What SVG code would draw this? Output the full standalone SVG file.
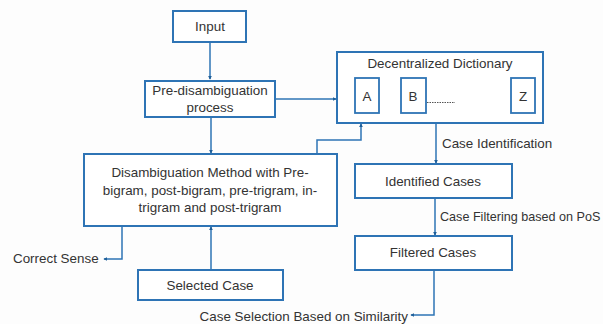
<svg xmlns="http://www.w3.org/2000/svg" width="603" height="324" viewBox="0 0 603 324">
<style>
.box{fill:#ffffff;stroke:#2e74b5;stroke-width:2}
.sub{fill:#ffffff;stroke:#2e74b5;stroke-width:1.8}
.con{fill:none;stroke:#2e74b5;stroke-width:1.5}
text{font-family:"Liberation Sans",Arial,sans-serif;font-size:13.4px;fill:#333333}
.c{text-anchor:middle}
</style>
<defs>
<marker id="ah" viewBox="0 0 6 6" refX="5" refY="3" markerWidth="4" markerHeight="4" orient="auto" markerUnits="userSpaceOnUse">
<path d="M0,0 L6,3 L0,6 z" fill="#1f5f99"/>
</marker>
</defs>
<rect width="603" height="324" fill="#fdfdfd"/>
<g id="connectors">
<path class="con" d="M210,42 V79" marker-end="url(#ah)"/>
<path class="con" d="M211,117 V153" marker-end="url(#ah)"/>
<path class="con" d="M275,99 H336" marker-end="url(#ah)"/>
<path class="con" d="M317,154 V140 H361 V124" marker-end="url(#ah)"/>
<path class="con" d="M436,123 V163" marker-end="url(#ah)"/>
<path class="con" d="M435,198 V235" marker-end="url(#ah)"/>
<path class="con" d="M434,270 V315 H411" marker-end="url(#ah)"/>
<path class="con" d="M122,226 V259 H104" marker-end="url(#ah)"/>
<path class="con" d="M211,270 V227" marker-end="url(#ah)"/>
<text x="442" y="148">Case Identification</text>
<text x="440" y="221" style="font-size:12.6px">Case Filtering based on PoS</text>
<text x="408" y="321" text-anchor="end">Case Selection Based on Similarity</text>
<text x="13" y="263">Correct Sense</text>
</g>
<g id="input">
<rect class="box" x="173" y="11" width="73" height="31"/>
<text class="c" x="210" y="31">Input</text>
</g>
<g id="pre">
<rect class="box" x="145" y="81" width="130" height="36"/>
<text class="c" x="210" y="95">Pre-disambiguation</text>
<text class="c" x="210" y="112">process</text>
</g>
<g id="dictionary">
<rect class="box" x="337" y="52" width="206" height="71"/>
<text class="c" x="440" y="68">Decentralized Dictionary</text>
<rect class="sub" x="355" y="78" width="24" height="35"/>
<text class="c" x="367" y="101">A</text>
<rect class="sub" x="401" y="78" width="25" height="35"/>
<text class="c" x="413" y="101">B</text>
<path d="M427,102.5 H455" stroke="#555" stroke-width="1" stroke-dasharray="1.5,1"/>
<rect class="sub" x="511" y="78" width="24" height="35"/>
<text class="c" x="523" y="101">Z</text>
</g>
<g id="disambiguation">
<rect class="box" x="84" y="154" width="253" height="72"/>
<text class="c" x="210" y="177">Disambiguation Method with Pre-</text>
<text class="c" x="210" y="195">bigram, post-bigram, pre-trigram, in-</text>
<text class="c" x="210" y="212">trigram and post-trigram</text>
</g>
<g id="identified">
<rect class="box" x="355" y="164" width="157" height="34"/>
<text class="c" x="433" y="186">Identified Cases</text>
</g>
<g id="filtered">
<rect class="box" x="355" y="236" width="157" height="34"/>
<text class="c" x="433" y="257">Filtered Cases</text>
</g>
<g id="selected">
<rect class="box" x="138" y="270" width="145" height="30"/>
<text class="c" x="210" y="290">Selected Case</text>
</g>
</svg>
